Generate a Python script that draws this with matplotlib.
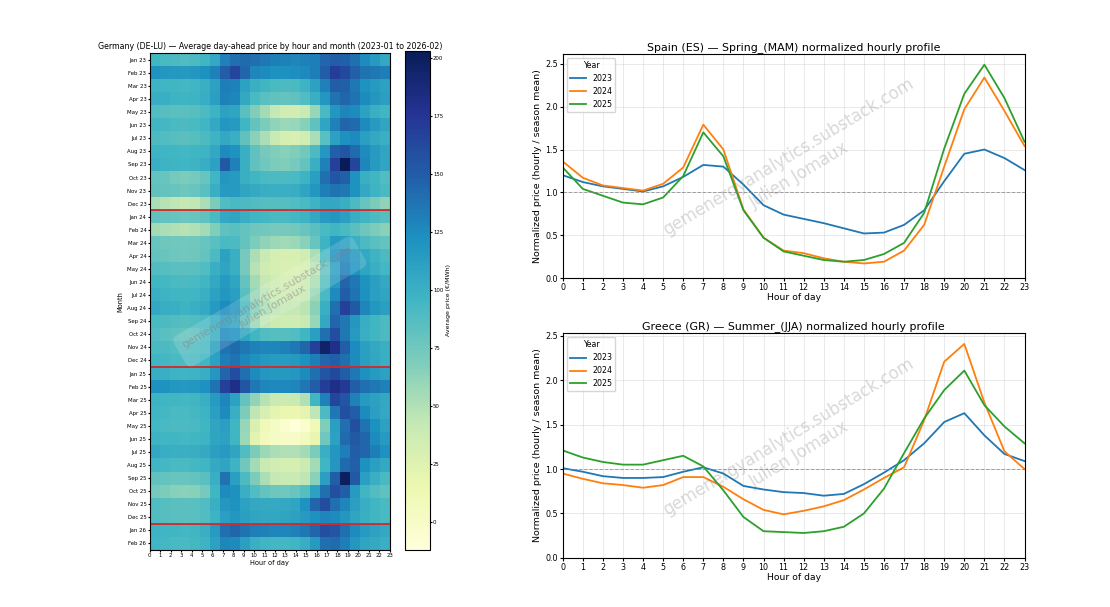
import matplotlib

matplotlib.use('Agg')

import numpy as np
from matplotlib import pyplot as plt

## heatmap: Germany (DE-LU), average day-ahead price (EUR/MWh), rows = months, cols = hours 0..23
months = ['Jan 23', 'Feb 23', 'Mar 23', 'Apr 23', 'May 23', 'Jun 23', 'Jul 23', 'Aug 23',
          'Sep 23', 'Oct 23', 'Nov 23', 'Dec 23',
          'Jan 24', 'Feb 24', 'Mar 24', 'Apr 24', 'May 24', 'Jun 24', 'Jul 24', 'Aug 24',
          'Sep 24', 'Oct 24', 'Nov 24', 'Dec 24',
          'Jan 25', 'Feb 25', 'Mar 25', 'Apr 25', 'May 25', 'Jun 25', 'Jul 25', 'Aug 25',
          'Sep 25', 'Oct 25', 'Nov 25', 'Dec 25',
          'Jan 26', 'Feb 26']
hours = list(range(24))

de_prices = [
  [95, 92, 90, 88, 90, 95, 105, 130, 140, 142, 140, 135, 132, 130, 128, 130, 132, 145, 150, 148, 140, 125, 115, 105],
  [120, 118, 117, 116, 118, 122, 130, 150, 165, 145, 128, 125, 122, 122, 124, 126, 132, 150, 170, 162, 148, 138, 135, 132],
  [98, 96, 95, 94, 96, 100, 110, 132, 130, 110, 100, 95, 92, 90, 92, 98, 110, 130, 150, 148, 135, 120, 115, 110],
  [102, 100, 98, 97, 98, 102, 112, 130, 128, 105, 92, 85, 82, 80, 82, 88, 100, 118, 138, 145, 138, 125, 118, 112],
  [88, 86, 85, 84, 86, 90, 98, 110, 108, 85, 68, 55, 42, 35, 35, 40, 60, 92, 118, 128, 125, 110, 100, 95],
  [95, 93, 92, 90, 92, 96, 105, 118, 115, 95, 80, 70, 62, 58, 60, 66, 82, 108, 130, 145, 142, 125, 115, 108],
  [90, 88, 86, 84, 86, 90, 98, 105, 100, 82, 65, 52, 40, 32, 30, 35, 52, 85, 110, 122, 125, 112, 105, 100],
  [98, 96, 95, 94, 95, 98, 105, 125, 120, 100, 82, 72, 68, 66, 68, 74, 90, 118, 148, 155, 142, 125, 115, 108],
  [100, 98, 97, 96, 98, 102, 110, 152, 130, 100, 82, 75, 70, 68, 72, 80, 100, 130, 168, 203, 165, 128, 115, 108],
  [80, 78, 72, 70, 72, 78, 95, 118, 115, 100, 95, 92, 90, 90, 92, 98, 112, 140, 155, 148, 120, 100, 95, 88],
  [82, 80, 78, 76, 78, 85, 100, 115, 115, 108, 104, 102, 100, 100, 102, 108, 118, 132, 138, 135, 120, 105, 98, 92],
  [52, 48, 45, 42, 44, 52, 70, 88, 92, 90, 88, 86, 86, 86, 88, 92, 98, 105, 105, 100, 90, 78, 70, 62],
  [82, 80, 78, 77, 78, 82, 92, 105, 108, 100, 96, 94, 92, 92, 94, 98, 105, 115, 118, 112, 102, 95, 90, 86],
  [55, 52, 50, 48, 50, 55, 68, 82, 85, 80, 76, 74, 72, 72, 74, 78, 84, 92, 95, 92, 84, 76, 70, 65],
  [78, 76, 75, 74, 75, 78, 85, 92, 90, 80, 70, 62, 58, 56, 58, 65, 78, 98, 115, 112, 100, 90, 85, 80],
  [80, 78, 76, 75, 76, 80, 90, 110, 100, 72, 52, 40, 32, 30, 30, 34, 52, 92, 120, 128, 118, 105, 98, 90],
  [88, 86, 85, 84, 85, 88, 100, 108, 100, 72, 48, 36, 32, 29, 29, 32, 46, 78, 110, 132, 120, 108, 100, 94],
  [95, 94, 92, 90, 92, 95, 105, 115, 108, 80, 55, 42, 36, 33, 33, 37, 52, 85, 115, 145, 135, 120, 112, 105],
  [100, 98, 96, 95, 96, 100, 110, 118, 112, 85, 60, 46, 39, 36, 36, 41, 58, 92, 125, 150, 138, 122, 112, 108],
  [105, 102, 100, 98, 100, 104, 115, 125, 118, 92, 66, 52, 45, 42, 42, 46, 64, 100, 140, 168, 152, 128, 118, 112],
  [92, 90, 88, 86, 88, 92, 102, 112, 108, 82, 58, 44, 38, 36, 36, 40, 60, 105, 145, 135, 118, 102, 95, 90],
  [88, 85, 82, 80, 82, 88, 100, 125, 122, 108, 95, 88, 86, 86, 88, 95, 112, 140, 160, 135, 115, 100, 95, 90],
  [92, 90, 88, 87, 88, 92, 112, 138, 142, 135, 130, 128, 128, 130, 135, 145, 168, 195, 180, 150, 125, 112, 105, 100],
  [96, 94, 92, 90, 92, 96, 110, 132, 138, 128, 120, 116, 114, 114, 116, 122, 132, 145, 148, 140, 125, 112, 106, 100],
  [102, 100, 98, 97, 98, 102, 118, 145, 160, 140, 125, 118, 116, 116, 118, 125, 140, 155, 162, 150, 135, 122, 115, 110],
  [122, 120, 118, 117, 118, 122, 138, 168, 182, 155, 135, 128, 126, 126, 128, 135, 150, 170, 182, 172, 150, 140, 135, 130],
  [98, 96, 95, 94, 95, 100, 115, 128, 110, 80, 62, 48, 40, 38, 40, 50, 95, 130, 165, 155, 130, 115, 110, 105],
  [96, 94, 92, 92, 93, 98, 112, 125, 100, 70, 45, 30, 20, 16, 16, 20, 45, 90, 135, 158, 150, 125, 112, 105],
  [94, 92, 90, 90, 91, 95, 108, 112, 95, 60, 28, 10, 2, -5, -12, -5, 10, 68, 112, 140, 158, 138, 122, 110],
  [98, 96, 95, 94, 95, 98, 108, 110, 95, 58, 22, 8, 2, 0, 0, 5, 18, 75, 110, 142, 152, 145, 125, 115],
  [105, 102, 100, 100, 101, 104, 112, 115, 108, 88, 70, 58, 52, 50, 50, 55, 70, 100, 118, 132, 150, 145, 132, 122],
  [96, 94, 92, 92, 93, 96, 104, 108, 98, 75, 55, 40, 35, 32, 32, 38, 55, 95, 118, 142, 148, 122, 112, 105],
  [82, 80, 78, 78, 80, 85, 100, 138, 112, 90, 70, 52, 42, 40, 40, 45, 65, 112, 150, 198, 152, 112, 100, 92],
  [72, 70, 66, 64, 66, 72, 95, 125, 122, 100, 88, 80, 76, 75, 78, 86, 110, 140, 158, 150, 115, 95, 88, 82],
  [88, 86, 84, 84, 85, 88, 100, 118, 120, 110, 105, 104, 104, 105, 108, 120, 145, 160, 140, 128, 112, 102, 96, 92],
  [88, 86, 85, 84, 85, 88, 98, 112, 118, 112, 108, 106, 106, 108, 110, 115, 122, 128, 125, 118, 108, 100, 95, 92],
  [98, 96, 95, 94, 95, 100, 115, 140, 145, 138, 132, 130, 128, 128, 130, 135, 145, 158, 155, 140, 125, 115, 110, 105],
  [96, 94, 92, 92, 93, 98, 110, 128, 125, 112, 100, 96, 94, 94, 96, 102, 115, 140, 142, 132, 118, 108, 104, 100],
]

## normalized hourly profiles
years = ['2023', '2024', '2025']
es_spring = [
  [1.20, 1.12, 1.07, 1.04, 1.01, 1.07, 1.18, 1.32, 1.30, 1.09, 0.85, 0.74, 0.69, 0.64, 0.58, 0.52, 0.53, 0.62, 0.79, 1.13, 1.45, 1.50, 1.40, 1.26],
  [1.36, 1.17, 1.08, 1.05, 1.02, 1.10, 1.29, 1.79, 1.50, 0.80, 0.47, 0.32, 0.29, 0.23, 0.19, 0.17, 0.19, 0.32, 0.62, 1.30, 1.97, 2.34, 1.95, 1.54],
  [1.29, 1.04, 0.96, 0.88, 0.86, 0.94, 1.19, 1.70, 1.42, 0.79, 0.47, 0.31, 0.26, 0.21, 0.19, 0.21, 0.28, 0.41, 0.76, 1.51, 2.15, 2.49, 2.10, 1.59],
]
gr_summer = [
  [1.01, 0.97, 0.92, 0.90, 0.90, 0.91, 0.97, 1.02, 0.95, 0.81, 0.77, 0.74, 0.73, 0.70, 0.72, 0.83, 0.96, 1.10, 1.29, 1.53, 1.63, 1.38, 1.17, 1.09],
  [0.95, 0.89, 0.84, 0.82, 0.79, 0.82, 0.91, 0.91, 0.80, 0.66, 0.54, 0.49, 0.53, 0.58, 0.65, 0.77, 0.90, 1.02, 1.55, 2.21, 2.41, 1.75, 1.20, 1.00],
  [1.21, 1.13, 1.08, 1.05, 1.05, 1.10, 1.15, 1.03, 0.76, 0.46, 0.30, 0.29, 0.28, 0.30, 0.35, 0.50, 0.78, 1.18, 1.57, 1.89, 2.11, 1.72, 1.48, 1.29],
]

watermark = 'gemenergyanalytics.substack.com\nJulien Jomaux'


def profile(ax, title, series):
  for yr, vals in zip(years, series):
    ax.plot(hours, vals, label=yr, linewidth=1.3)
  ax.axhline(1.0, color='grey', linestyle='--', linewidth=0.7, alpha=0.7)
  ax.set_xlim(0, 23)
  ax.set_ylim(0, max(max(s) for s in series) * 1.05)
  ax.set_xticks(hours)
  ax.set_title(title, fontsize=7.9, pad=3)
  ax.set_xlabel('Hour of day', fontsize=6.7, labelpad=1)
  ax.set_ylabel('Normalized price (hourly / season mean)', fontsize=6.8, labelpad=2)
  ax.tick_params(labelsize=5.8, length=2, pad=1.5)
  ax.grid(alpha=0.3, linewidth=0.6)
  ax.legend(title='Year', loc='upper left', fontsize=5.7, title_fontsize=5.7)
  ax.text(0.5, 0.5, watermark, transform=ax.transAxes, ha='center', va='center',
          rotation=31, fontsize=12, color='grey', alpha=0.3)


def main():
  fig = plt.figure(figsize=(11.1, 6.07), dpi=100)

  ax = fig.add_axes([0.135, 0.094, 0.216, 0.818])
  cax = fig.add_axes([0.365, 0.094, 0.022, 0.822])
  data = np.array(de_prices, dtype=float)
  im = ax.imshow(data, aspect='auto', cmap='YlGnBu', interpolation='nearest',
                 extent=[0, 23, len(months) - 0.5, -0.5])
  ax.set_yticks(range(len(months)))
  ax.set_yticklabels(months)
  ax.set_xticks(hours)
  ax.tick_params(labelsize=3.9, length=1.5, pad=1)
  for i, m in enumerate(months):
    if m.startswith('Jan') and i > 0:
      ax.axhline(i - 0.5, color='#d62728', linewidth=1.3)
  ax.set_title('Germany (DE-LU) \u2014 Average day-ahead price by hour and month (2023-01 to 2026-02)',
               fontsize=5.7, pad=3)
  ax.set_xlabel('Hour of day', fontsize=4.8, labelpad=1)
  ax.set_ylabel('Month', fontsize=4.8, labelpad=2)
  ax.text(0.5, 0.5, watermark, transform=ax.transAxes, ha='center', va='center',
          rotation=30, fontsize=8, color='grey', alpha=0.5,
          bbox=dict(boxstyle='round,pad=0.6', facecolor='white', edgecolor='none', alpha=0.15))

  cb = fig.colorbar(im, cax=cax)
  cb.set_ticks([0, 25, 50, 75, 100, 125, 150, 175, 200])
  cb.ax.tick_params(labelsize=3.9, length=1.5, pad=1)
  cb.set_label('Average price (\u20ac/MWh)', fontsize=4.5, labelpad=2)

  ax1 = fig.add_axes([0.507, 0.542, 0.416, 0.369])
  profile(ax1, 'Spain (ES) \u2014 Spring_(MAM) normalized hourly profile', es_spring)
  ax2 = fig.add_axes([0.507, 0.081, 0.416, 0.370])
  profile(ax2, 'Greece (GR) \u2014 Summer_(JJA) normalized hourly profile', gr_summer)

  fig.savefig('out.png', dpi=100)


if __name__ == '__main__':
  main()
